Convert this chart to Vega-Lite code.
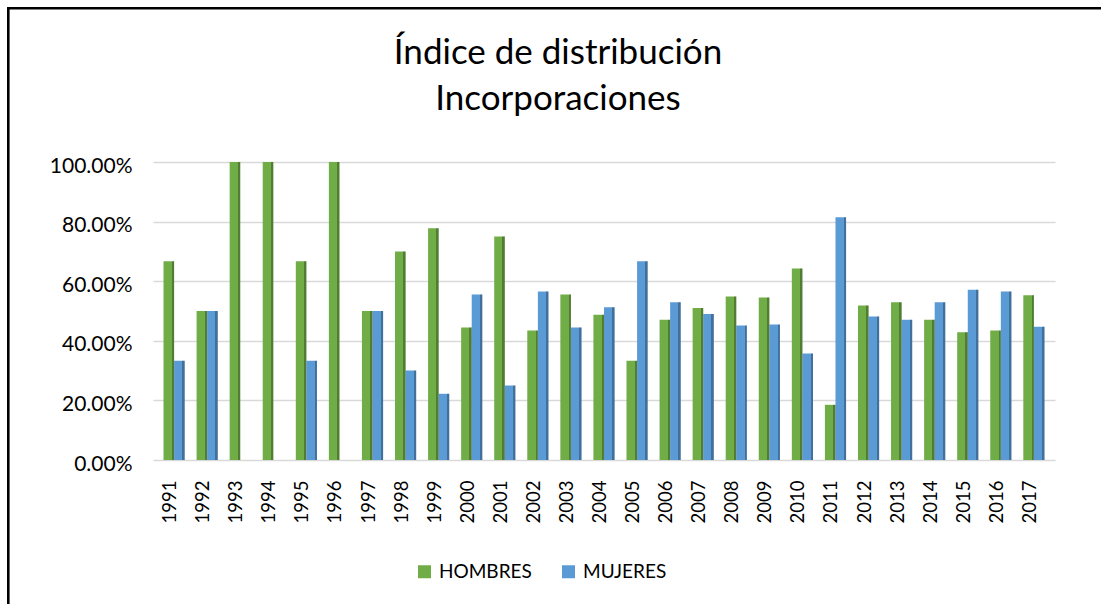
{
  "$schema": "https://vega.github.io/schema/vega-lite/v6.json",
  "width": 902,
  "height": 298,
  "autosize": {"type": "none"},
  "padding": {"left": 153, "top": 162, "right": 46, "bottom": 144},
  "background": "white",
  "config": {"view": {"stroke": null}, "font": "Lato", "legend": {"strokeWidth": 2.6}},
  "title": {
    "text": ["Índice de distribución", "Incorporaciones"],
    "font": "Lato",
    "fontSize": 35,
    "fontWeight": "normal",
    "color": "#000000",
    "lineHeight": 46,
    "anchor": "middle",
    "frame": "group",
    "dx": -46,
    "offset": -110
  },
  "datasets": {
    "d": [
      {"year": "1991", "serie": "HOMBRES", "valor": 0.6667}, {"year": "1991", "serie": "MUJERES", "valor": 0.3333},
      {"year": "1992", "serie": "HOMBRES", "valor": 0.5}, {"year": "1992", "serie": "MUJERES", "valor": 0.5},
      {"year": "1993", "serie": "HOMBRES", "valor": 1.0}, {"year": "1993", "serie": "MUJERES", "valor": 0.0},
      {"year": "1994", "serie": "HOMBRES", "valor": 1.0}, {"year": "1994", "serie": "MUJERES", "valor": 0.0},
      {"year": "1995", "serie": "HOMBRES", "valor": 0.6667}, {"year": "1995", "serie": "MUJERES", "valor": 0.3333},
      {"year": "1996", "serie": "HOMBRES", "valor": 1.0}, {"year": "1996", "serie": "MUJERES", "valor": 0.0},
      {"year": "1997", "serie": "HOMBRES", "valor": 0.5}, {"year": "1997", "serie": "MUJERES", "valor": 0.5},
      {"year": "1998", "serie": "HOMBRES", "valor": 0.70}, {"year": "1998", "serie": "MUJERES", "valor": 0.30},
      {"year": "1999", "serie": "HOMBRES", "valor": 0.7778}, {"year": "1999", "serie": "MUJERES", "valor": 0.2222},
      {"year": "2000", "serie": "HOMBRES", "valor": 0.4444}, {"year": "2000", "serie": "MUJERES", "valor": 0.5556},
      {"year": "2001", "serie": "HOMBRES", "valor": 0.75}, {"year": "2001", "serie": "MUJERES", "valor": 0.25},
      {"year": "2002", "serie": "HOMBRES", "valor": 0.4348}, {"year": "2002", "serie": "MUJERES", "valor": 0.5652},
      {"year": "2003", "serie": "HOMBRES", "valor": 0.5556}, {"year": "2003", "serie": "MUJERES", "valor": 0.4444},
      {"year": "2004", "serie": "HOMBRES", "valor": 0.4878}, {"year": "2004", "serie": "MUJERES", "valor": 0.5122},
      {"year": "2005", "serie": "HOMBRES", "valor": 0.3333}, {"year": "2005", "serie": "MUJERES", "valor": 0.6667},
      {"year": "2006", "serie": "HOMBRES", "valor": 0.4706}, {"year": "2006", "serie": "MUJERES", "valor": 0.5294},
      {"year": "2007", "serie": "HOMBRES", "valor": 0.5102}, {"year": "2007", "serie": "MUJERES", "valor": 0.4898},
      {"year": "2008", "serie": "HOMBRES", "valor": 0.5484}, {"year": "2008", "serie": "MUJERES", "valor": 0.4516},
      {"year": "2009", "serie": "HOMBRES", "valor": 0.5455}, {"year": "2009", "serie": "MUJERES", "valor": 0.4545},
      {"year": "2010", "serie": "HOMBRES", "valor": 0.6429}, {"year": "2010", "serie": "MUJERES", "valor": 0.3571},
      {"year": "2011", "serie": "HOMBRES", "valor": 0.1852}, {"year": "2011", "serie": "MUJERES", "valor": 0.8148},
      {"year": "2012", "serie": "HOMBRES", "valor": 0.5185}, {"year": "2012", "serie": "MUJERES", "valor": 0.4815},
      {"year": "2013", "serie": "HOMBRES", "valor": 0.5294}, {"year": "2013", "serie": "MUJERES", "valor": 0.4706},
      {"year": "2014", "serie": "HOMBRES", "valor": 0.4706}, {"year": "2014", "serie": "MUJERES", "valor": 0.5294},
      {"year": "2015", "serie": "HOMBRES", "valor": 0.4286}, {"year": "2015", "serie": "MUJERES", "valor": 0.5714},
      {"year": "2016", "serie": "HOMBRES", "valor": 0.4348}, {"year": "2016", "serie": "MUJERES", "valor": 0.5652},
      {"year": "2017", "serie": "HOMBRES", "valor": 0.5526}, {"year": "2017", "serie": "MUJERES", "valor": 0.4474}
    ],
    "frame": [{"marco": " "}]
  },
  "layer": [
    {
      "data": {"name": "d"},
      "encoding": {
        "x": {
          "field": "year",
          "type": "nominal",
          "sort": null,
          "scale": {"paddingInner": 0.36, "paddingOuter": 0.318},
          "axis": {
            "title": null,
            "labelAngle": -90,
            "labelFontSize": 18.5,
            "labelFont": "Lato",
            "labelColor": "#000000",
            "labelPadding": 20,
            "labelOffset": -4,
            "domain": false,
            "ticks": false,
            "tickSize": 0,
            "grid": false
          }
        },
        "xOffset": {"field": "serie", "type": "nominal", "scale": {"paddingInner": 0, "paddingOuter": 0}},
        "y": {
          "field": "valor",
          "type": "quantitative",
          "scale": {"domain": [0, 1], "nice": false},
          "axis": {
            "title": null,
            "values": [0, 0.2, 0.4, 0.6, 0.8, 1],
            "format": ".2%",
            "labelFontSize": 21,
            "labelFont": "Lato",
            "labelColor": "#000000",
            "labelPadding": 21,
            "labelOffset": 4,
            "domain": false,
            "ticks": false,
            "tickSize": 0,
            "grid": true,
            "gridColor": "#D9D9D9",
            "gridWidth": 1.6
          }
        }
      },
      "layer": [
        {
          "mark": {"type": "bar"},
          "encoding": {
            "color": {
              "field": "serie",
              "type": "nominal",
              "scale": {"domain": ["HOMBRES", "MUJERES"], "range": ["#70AD47", "#5B9BD5"]},
              "legend": {
                "title": null,
                "orient": "none",
                "direction": "horizontal",
                "legendX": 262,
                "legendY": 400,
                "padding": 0,
                "symbolType": "square",
                "symbolSize": 169,
                "symbolStrokeWidth": 0,
                "labelFont": "Lato",
                "labelFontSize": 19,
                "labelColor": "#000000",
                "labelOffset": 5,
                "columnPadding": 27
              }
            }
          }
        },
        {
          "mark": {
            "type": "bar",
            "fill": {
              "gradient": "linear",
              "x1": 0, "y1": 0, "x2": 1, "y2": 0,
              "stops": [
                {"offset": 0, "color": "rgba(0,0,0,0)"},
                {"offset": 0.78, "color": "rgba(0,0,0,0)"},
                {"offset": 0.78, "color": "rgba(0,0,0,0.28)"},
                {"offset": 1, "color": "rgba(0,0,0,0.28)"}
              ]
            }
          }
        }
      ]
    },
    {
      "data": {"name": "frame"},
      "mark": {"type": "point", "opacity": 0},
      "encoding": {
        "shape": {
          "field": "marco",
          "type": "nominal",
          "legend": {
            "title": null,
            "orient": "none",
            "legendX": -144.7,
            "legendY": -153.7,
            "padding": 700,
            "strokeColor": "#000000",
            "symbolOpacity": 0,
            "symbolSize": 1,
            "labelFontSize": 1,
            "labelExpr": "''"
          }
        }
      }
    }
  ]
}
